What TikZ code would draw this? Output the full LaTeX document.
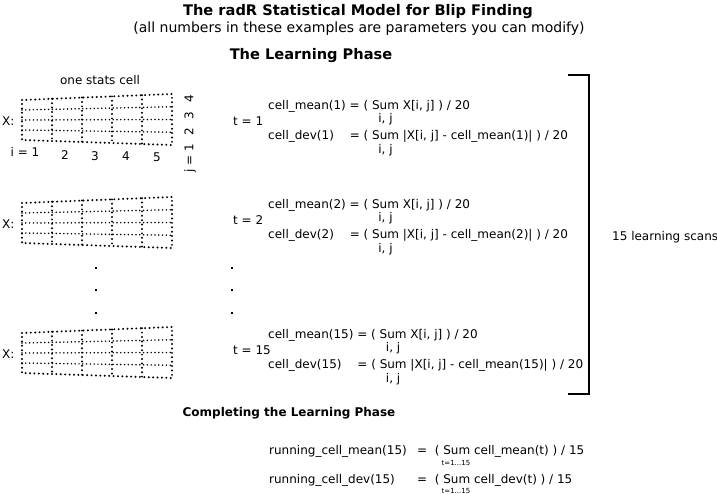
\documentclass[tikz,border=0pt]{standalone}
\usepackage{fontspec}
\setmainfont{DejaVu Sans}
\usetikzlibrary{calc}
\tikzset{
  txt/.style={inner sep=0pt, anchor=west, font=\fontsize{12}{14}\selectfont},
  lbl/.style={inner sep=0pt, font=\fontsize{12}{14}\selectfont},
  head/.style={inner sep=0pt, font=\fontsize{14.6}{17}\selectfont\bfseries},
  subhead/.style={inner sep=0pt, font=\fontsize{12}{14}\selectfont\bfseries},
  note/.style={inner sep=0pt, font=\fontsize{14}{17}\selectfont},
  tidx/.style={inner sep=0pt, font=\fontsize{7}{8}\selectfont},
  rim/.style={line width=2.2pt, line cap=round, dash pattern=on 0pt off 4.4pt},
  fine/.style={line width=1.7pt, line cap=round, dash pattern=on 0pt off 3.8pt},
  spot/.style={fill, inner sep=0pt, minimum size=2.8pt},
  brace/.style={line width=2pt},
}
\begin{document}
\begin{tikzpicture}[x=1pt, y=-1pt]
  \useasboundingbox (0,0) rectangle (717,494);

  % headings
  \node[head] (title) at (358,12) {The radR Statistical Model for Blip Finding};
  \node[note] (remark) at (359,29) {(all numbers in these examples are parameters you can modify)};
  \node[head] (learn) at (311,56) {The Learning Phase};
  \node[lbl] (cell) at (100,80) {one stats cell};

  % the three scans
  \foreach \r/\g/\f/\t/\s in {1/0/0/1/0, 2/103/99/2/0, 3/233/229/15/7.6} {
    \coordinate (tl\r) at (22,{100+\g});
    \coordinate (tr\r) at (172,{94+\g});
    \coordinate (bl\r) at (22,{140+\g});
    \coordinate (br\r) at (172,{145+\g});
    \foreach \m in {1,2,3}
      \draw[fine] ($(tl\r)!\m/4!(bl\r)$) -- ($(tr\r)!\m/4!(br\r)$);
    \foreach \k in {1,...,4}
      \draw[rim] ($(tl\r)!\k/5!(tr\r)$) -- ($(bl\r)!\k/5!(br\r)$);
    \draw[rim] (tl\r) -- (tr\r) -- (br\r) -- (bl\r) -- cycle;
    \node[txt] (x\r) at (2,{121+\g}) {X:};
    \node[txt] (t\r) at (233,{121+\f}) {t = \t};
    \node[txt] (mean\r) at (268,{106+\f}) {cell\_mean(\t) = ( Sum X[i, j] ) / 20};
    \node[lbl] (mij\r) at ({385.5+\s},{119+\f}) {i, j};
    \node[txt] (dev\r) at (268,{136+\f}) {cell\_dev(\t)};
    \node[txt] (devr\r) at ({349.6+\s},{136+\f}) {= ( Sum |X[i, j] - cell\_mean(\t)| ) / 20};
    \node[lbl] (dij\r) at ({385.5+\s},{150+\f}) {i, j};
  }

  % cell indices
  \node[lbl] (i1) at (25,152) {i = 1};
  \node[lbl] (i2) at (65,155) {2};
  \node[lbl] (i3) at (95,156) {3};
  \node[lbl] (i4) at (126,156) {4};
  \node[lbl] (i5) at (157,157) {5};
  \node[lbl, rotate=90] (jj) at (190,134) {j = 1\hspace{5pt} 2\hspace{5pt} 3\hspace{5pt} 4};

  % skipped scans
  \foreach \y [count=\n] in {268,290,313} {
    \node[spot] (da\n) at (96,\y) {};
    \node[spot] (db\n) at (232,\y) {};
  }

  % bracket over all scans
  \coordinate (btop) at (568,75);
  \coordinate (bbot) at (568,394);
  \draw[brace] (btop) -- ++(21,0) |- (bbot);
  \node[txt] (scans) at (612,237) {15 learning scans};

  % running averages
  \node[subhead] (done) at (289,413) {Completing the Learning Phase};
  \node[txt] (rmean) at (269,451) {running\_cell\_mean(15)};
  \node[txt] (rmeanr) at (417,451) {=\ \ ( Sum cell\_mean(t) ) / 15};
  \node[tidx] (rmt) at (456,463) {t=1...15};
  \node[txt] (rdev) at (269,480) {running\_cell\_dev(15)};
  \node[txt] (rdevr) at (417,480) {=\ \ ( Sum cell\_dev(t) ) / 15};
  \node[tidx] (rdt) at (456,491) {t=1...15};
\end{tikzpicture}
\end{document}
